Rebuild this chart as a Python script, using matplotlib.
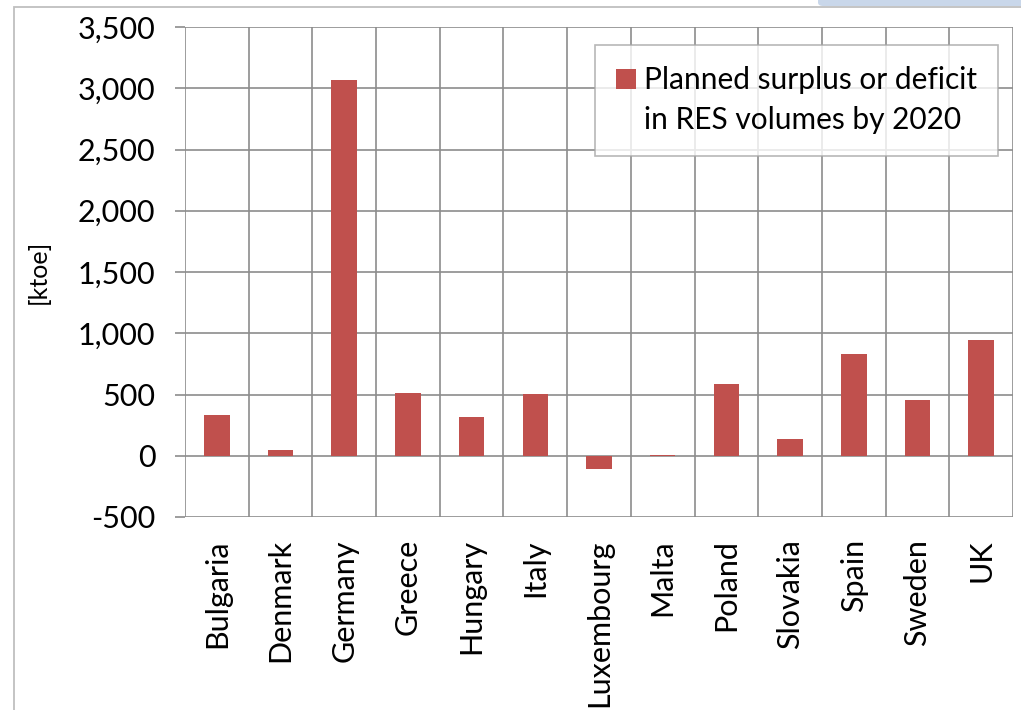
import matplotlib.pyplot as plt
from matplotlib.patches import Rectangle, FancyBboxPatch
from matplotlib.ticker import FuncFormatter

# values, ktoe
countries = ['Bulgaria', 'Denmark', 'Germany', 'Greece', 'Hungary', 'Italy',
             'Luxembourg', 'Malta', 'Poland', 'Slovakia', 'Spain', 'Sweden', 'UK']
surplus = [333, 50, 3069, 515, 320, 505, -105, 5, 587, 137, 832, 458, 941]
legend_lines = ['Planned surplus or deficit', 'in RES volumes by 2020']

plt.rcParams['font.family'] = ['Lato', 'DejaVu Sans']

fig = plt.figure(figsize=(10.21, 7.10), dpi=100)
W, H = 1021, 710

# outer chart frame and the blue corner shape
fig.patches.append(Rectangle((14 / W, -0.1), 1.2, (H - 7) / H + 0.1,
                             transform=fig.transFigure, fill=False,
                             edgecolor='#bfbfbf', linewidth=1.3))
fig.patches.append(FancyBboxPatch((818 / W, (H - 6) / H), 0.3, 0.05,
                                  boxstyle='round,pad=0,rounding_size=0.005',
                                  transform=fig.transFigure,
                                  facecolor='#c9d7ea', edgecolor='none'))

ax = fig.add_axes([185 / W, (H - 517) / H, (1013 - 185) / W, (517 - 27) / H])

x = range(len(countries))
bars = ax.bar(x, surplus, width=0.4, color='#c0504d', zorder=3)

ax.set_xlim(-0.5, len(countries) - 0.5)
ax.set_ylim(-500, 3500)
ax.set_yticks(range(-500, 3501, 500))
ax.yaxis.set_major_formatter(FuncFormatter(lambda v, p: f'{int(v):,}'))

# horizontal grid + vertical separators between categories
for v in range(-500, 3501, 500):
    ax.axhline(v, color='#8c8c8c', linewidth=1.2, zorder=1)
for i in range(len(countries) + 1):
    ax.axvline(i - 0.5, color='#8c8c8c', linewidth=1.2, zorder=1)

for s in ax.spines.values():
    s.set_visible(False)

ax.tick_params(axis='y', length=7.2, width=1.2, color='#8c8c8c', pad=14,
               labelsize=22)
ax.tick_params(axis='x', length=0, pad=16, labelsize=22)
ax.set_xticks(list(x))
ax.set_xticklabels(countries, rotation=90)

ax.set_ylabel('[ktoe]', fontsize=18)
ax.yaxis.set_label_coords((50 - 185) / 828, 0.5)

# legend: swatch next to the first line only, second line as a blank entry
blank = Rectangle((0, 0), 1, 1, alpha=0)
leg = ax.legend([bars, blank], legend_lines, loc='upper right',
                bbox_to_anchor=(998 / W, (H - 45) / H),
                bbox_transform=fig.transFigure, fontsize=21.5, frameon=True,
                fancybox=False, handlelength=0.67, handleheight=0.67,
                handletextpad=0.25, borderpad=0.72, labelspacing=0.4,
                borderaxespad=0)
leg.get_frame().set_edgecolor('#a6a6a6')
leg.get_frame().set_linewidth(1.2)
leg.set_zorder(5)

fig.savefig('out.png', dpi=100)
